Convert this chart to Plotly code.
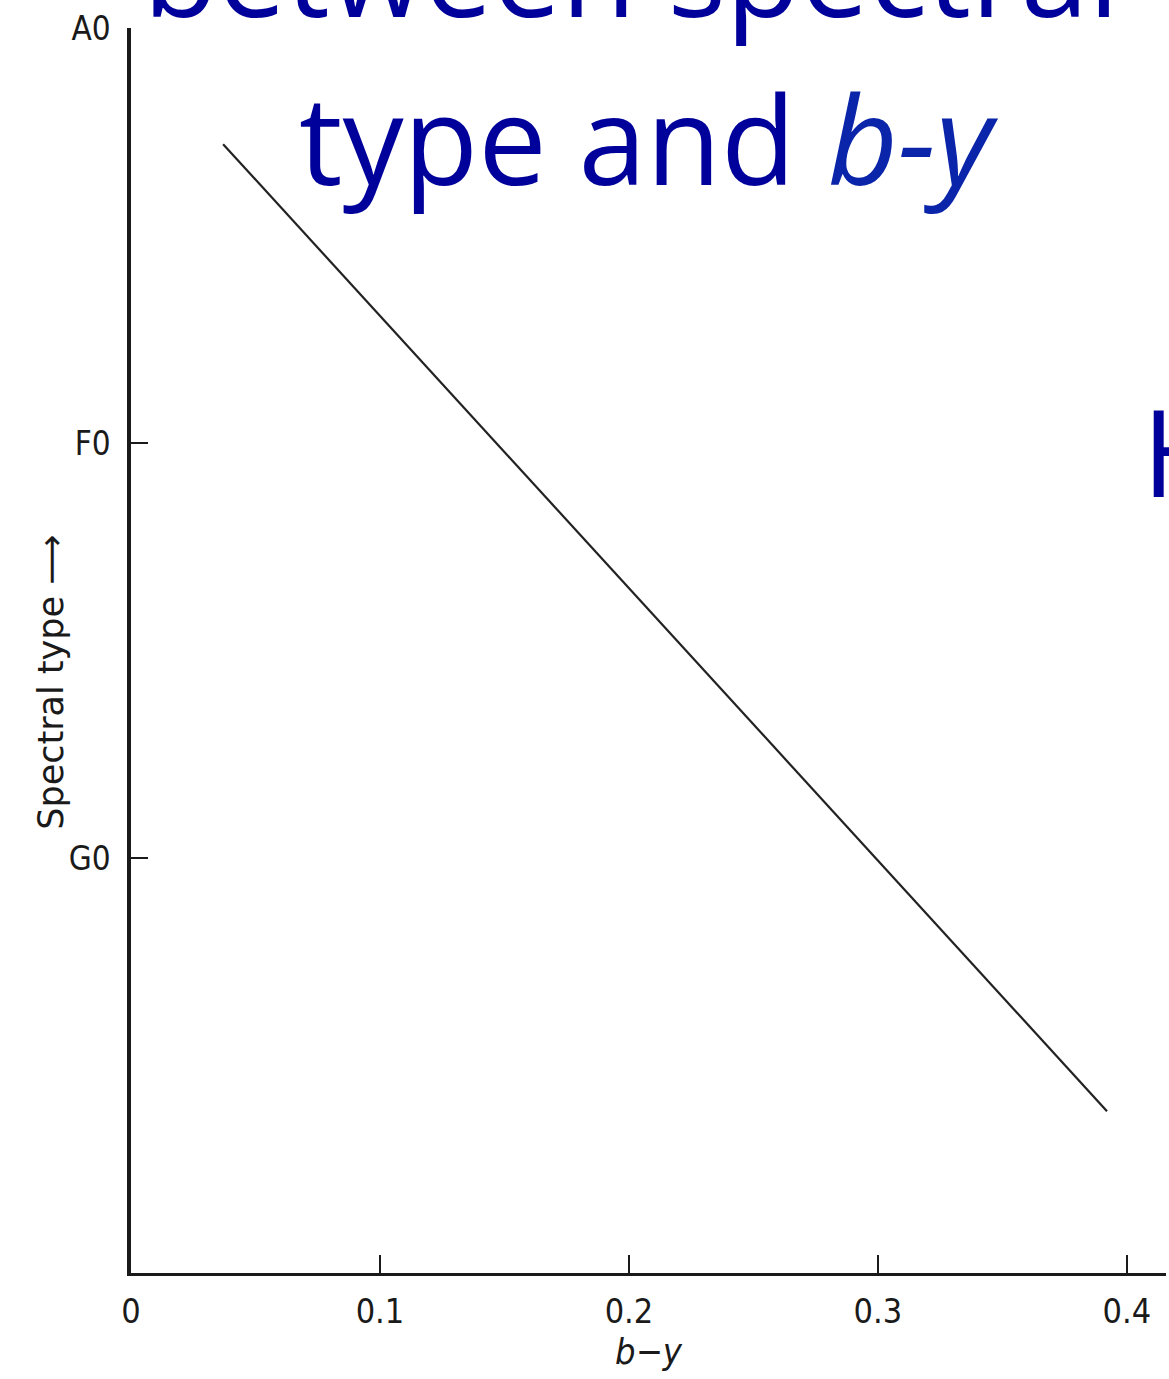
import plotly.graph_objects as go

# Calibration line: spectral type against Stromgren b-y colour index
b_y = [0.037, 0.392]
spectral_num = [2.8, 26.1]          # A0=0, F0=10, G0=20, K0=30

x_ticks = [0, 0.1, 0.2, 0.3, 0.4]
x_tick_text = ["0", "0.1", "0.2", "0.3", "0.4"]
y_ticks = [0, 10, 20]
y_tick_text = ["A0", "F0", "G0"]

title_line1 = "between spectral"
title_line2 = "type and <i><span style='color:#0a24aa'>b-y</span></i>"
side_text = "H"

axis_font = "DejaVu Sans Condensed, Liberation Sans Narrow, DejaVu Sans"
title_font = "Open Sans, Noto Sans, sans-serif"
ink = "#1a1a1a"
blue = "#00009a"

fig = go.Figure()
fig.add_trace(go.Scatter(
    x=b_y, y=spectral_num, mode="lines",
    line=dict(color="#222222", width=2.2),
    showlegend=False, hoverinfo="skip",
))

fig.update_layout(
    width=1169, height=1379,
    margin=dict(l=131, r=3, t=28, b=106),
    paper_bgcolor="white", plot_bgcolor="white",
    xaxis=dict(
        range=[0, 0.4157], showgrid=False, zeroline=False,
        showline=True, linecolor=ink, linewidth=3,
        ticks="inside", ticklen=18, tickwidth=2, tickcolor=ink,
        tickvals=x_ticks, ticktext=x_tick_text,
        tickfont=dict(family=axis_font, size=34, color=ink),
        ticklabelstandoff=6,
        title=dict(text="<i>b−y</i>", font=dict(family=axis_font, size=36, color=ink),
                   standoff=8),
    ),
    yaxis=dict(
        range=[30, 0], showgrid=False, zeroline=False,
        showline=True, linecolor=ink, linewidth=3.5,
        ticks="inside", ticklen=17, tickwidth=2, tickcolor=ink,
        tickvals=y_ticks, ticktext=y_tick_text,
        tickfont=dict(family=axis_font, size=33, color=ink),
        ticklabelstandoff=10,
    ),
)

# Rotated y-axis caption
fig.add_annotation(
    text="Spectral type ⟶", xref="paper", yref="paper",
    x=-0.078, y=0.5, yshift=-32, textangle=-90, showarrow=False,
    font=dict(family="DejaVu Sans", size=35, color=ink),
    xanchor="center", yanchor="middle",
)

# Slide heading overlaid on the chart
fig.add_annotation(
    text=title_line1, xref="paper", yref="paper",
    x=0.5, xshift=-18, y=1.0, yshift=58, showarrow=False,
    font=dict(family=title_font, size=122, color=blue),
    xanchor="center", yanchor="middle",
)
fig.add_annotation(
    text=title_line2, xref="paper", yref="paper",
    x=0.5, y=1.0, yshift=-110, showarrow=False,
    font=dict(family=title_font, size=122, color=blue),
    xanchor="center", yanchor="middle",
)
fig.add_annotation(
    text=side_text, xref="paper", yref="paper",
    x=1.0, xshift=-26, y=1.0, yshift=-422, showarrow=False,
    font=dict(family=title_font, size=120, color=blue),
    xanchor="left", yanchor="middle",
)

fig.write_html("out.html")
